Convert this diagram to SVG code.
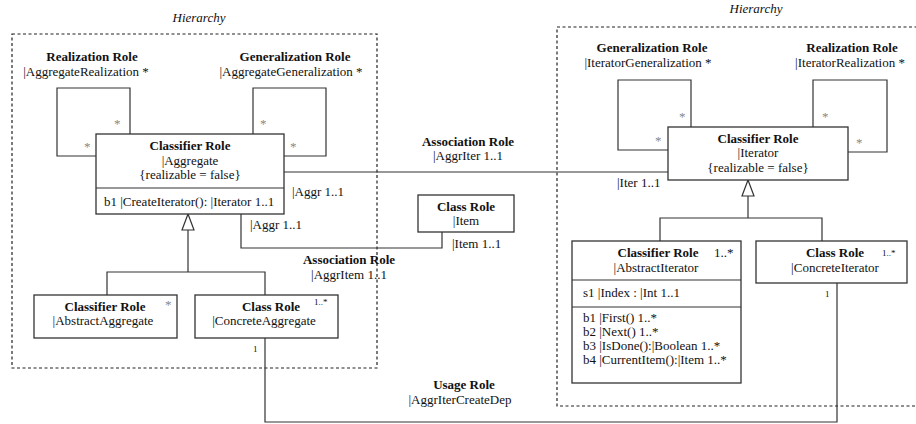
<svg xmlns="http://www.w3.org/2000/svg" width="916" height="424" viewBox="0 0 916 424">
<style>
text{font-family:"Liberation Serif","Times New Roman",serif;font-size:13px;fill:#111}
.b{font-weight:bold}
.i{font-style:italic}
.m{text-anchor:middle}
.s{font-size:9px}
.g{fill:#888}
.box{fill:#fff;stroke:#333;stroke-width:1.3}
.ln{fill:none;stroke:#333;stroke-width:1.2}
.dash{fill:none;stroke:#222;stroke-width:1.2;stroke-dasharray:3,2.5}
.tri{fill:#fff;stroke:#333;stroke-width:1.2}
</style>
<g id="hierarchy-left">
<rect class="dash" x="12" y="34" width="365" height="334"/>
<text class="i m" x="199" y="22">Hierarchy</text>
</g>
<g id="hierarchy-right">
<rect class="dash" x="557" y="27" width="380" height="379"/>
<text class="i m" x="756" y="13">Hierarchy</text>
</g>
<g id="connectors">
<path class="ln" d="M130,134 V88 H57 V156 H96"/>
<path class="ln" d="M253,134 V88 H326 V156 H284"/>
<path class="ln" d="M691,127 V80 H618 V150 H668"/>
<path class="ln" d="M813,127 V80 H887 V152 H848"/>
<path class="ln" d="M284,172 H668"/>
<path class="ln" d="M241,214 V248 H442 V232"/>
<path class="ln" d="M188,230 V272 M107,295 V272 H265 V295"/>
<polygon class="tri" points="188,214 182,230 194,230"/>
<path class="ln" d="M748,196 V218 M660,241 V218 H822 V241"/>
<polygon class="tri" points="748,180 742,196 754,196"/>
<path class="ln" d="M837,283 V422 H265 V338"/>
</g>
<g id="loop-labels">
<text class="b m" x="92" y="61">Realization Role</text>
<text class="m" x="86" y="76">|AggregateRealization *</text>
<text class="b m" x="295" y="61">Generalization Role</text>
<text class="m" x="291" y="76">|AggregateGeneralization *</text>
<text class="g" x="114" y="128">*</text>
<text class="g" x="84" y="151">*</text>
<text class="g" x="260" y="128">*</text>
<text class="g" x="290" y="151">*</text>
<text class="b m" x="652" y="52">Generalization Role</text>
<text class="m" x="648" y="67">|IteratorGeneralization *</text>
<text class="b m" x="852" y="52">Realization Role</text>
<text class="m" x="850" y="67">|IteratorRealization *</text>
<text class="g" x="679" y="121">*</text>
<text class="g" x="655" y="145">*</text>
<text class="g" x="822" y="121">*</text>
<text class="g" x="856" y="147">*</text>
</g>
<g id="assoc-labels">
<text class="b m" x="468" y="146">Association Role</text>
<text class="m" x="468" y="160">|AggrIter 1..1</text>
<text x="292" y="196">|Aggr 1..1</text>
<text x="617" y="187">|Iter 1..1</text>
<text x="250" y="229">|Aggr 1..1</text>
<text x="452" y="248">|Item 1..1</text>
<text class="b m" x="349" y="264">Association Role</text>
<text class="m" x="349" y="279">|AggrItem 1..1</text>
<text class="b m" x="464" y="389">Usage Role</text>
<text class="m" x="460" y="404">|AggrIterCreateDep</text>
<text class="s" x="253" y="352">1</text>
<text class="s" x="825" y="297">1</text>
</g>
<g id="aggregate">
<rect class="box" x="96" y="134" width="188" height="80"/>
<line class="ln" x1="96" y1="188" x2="284" y2="188"/>
<text class="b m" x="190" y="150">Classifier Role</text>
<text class="m" x="190" y="165">|Aggregate</text>
<text class="m" x="190" y="179">{realizable = false}</text>
<text x="104" y="206">b1 |CreateIterator(): |Iterator 1..1</text>
</g>
<g id="item">
<rect class="box" x="418" y="195" width="96" height="37"/>
<text class="b m" x="466" y="211">Class Role</text>
<text class="m" x="466" y="225">|Item</text>
</g>
<g id="iterator">
<rect class="box" x="668" y="127" width="180" height="53"/>
<text class="b m" x="758" y="143">Classifier Role</text>
<text class="m" x="758" y="157">|Iterator</text>
<text class="m" x="758" y="172">{realizable = false}</text>
</g>
<g id="abstract-aggregate">
<rect class="box" x="34" y="295" width="143" height="43"/>
<text class="b m" x="105" y="311">Classifier Role</text>
<text class="g" x="165" y="309">*</text>
<text class="m" x="103" y="325">|AbstractAggregate</text>
</g>
<g id="concrete-aggregate">
<rect class="box" x="195" y="295" width="143" height="43"/>
<text class="b m" x="271" y="311">Class Role</text>
<text class="s" x="314" y="305">1..*</text>
<text class="m" x="264" y="325">|ConcreteAggregate</text>
</g>
<g id="abstract-iterator">
<rect class="box" x="572" y="241" width="169" height="142"/>
<line class="ln" x1="572" y1="280" x2="741" y2="280"/>
<line class="ln" x1="572" y1="307" x2="741" y2="307"/>
<text class="b m" x="658" y="257">Classifier Role</text>
<text x="714" y="257">1..*</text>
<text class="m" x="656" y="272">|AbstractIterator</text>
<text x="583" y="297">s1 |Index : |Int 1..1</text>
<text x="583" y="322">b1 |First() 1..*</text>
<text x="583" y="336">b2 |Next() 1..*</text>
<text x="583" y="350">b3 |IsDone():|Boolean 1..*</text>
<text x="583" y="364">b4 |CurrentItem():|Item 1..*</text>
</g>
<g id="concrete-iterator">
<rect class="box" x="756" y="241" width="151" height="42"/>
<text class="b m" x="835" y="257">Class Role</text>
<text class="s" x="882" y="256">1..*</text>
<text class="m" x="835" y="272">|ConcreteIterator</text>
</g>
</svg>
